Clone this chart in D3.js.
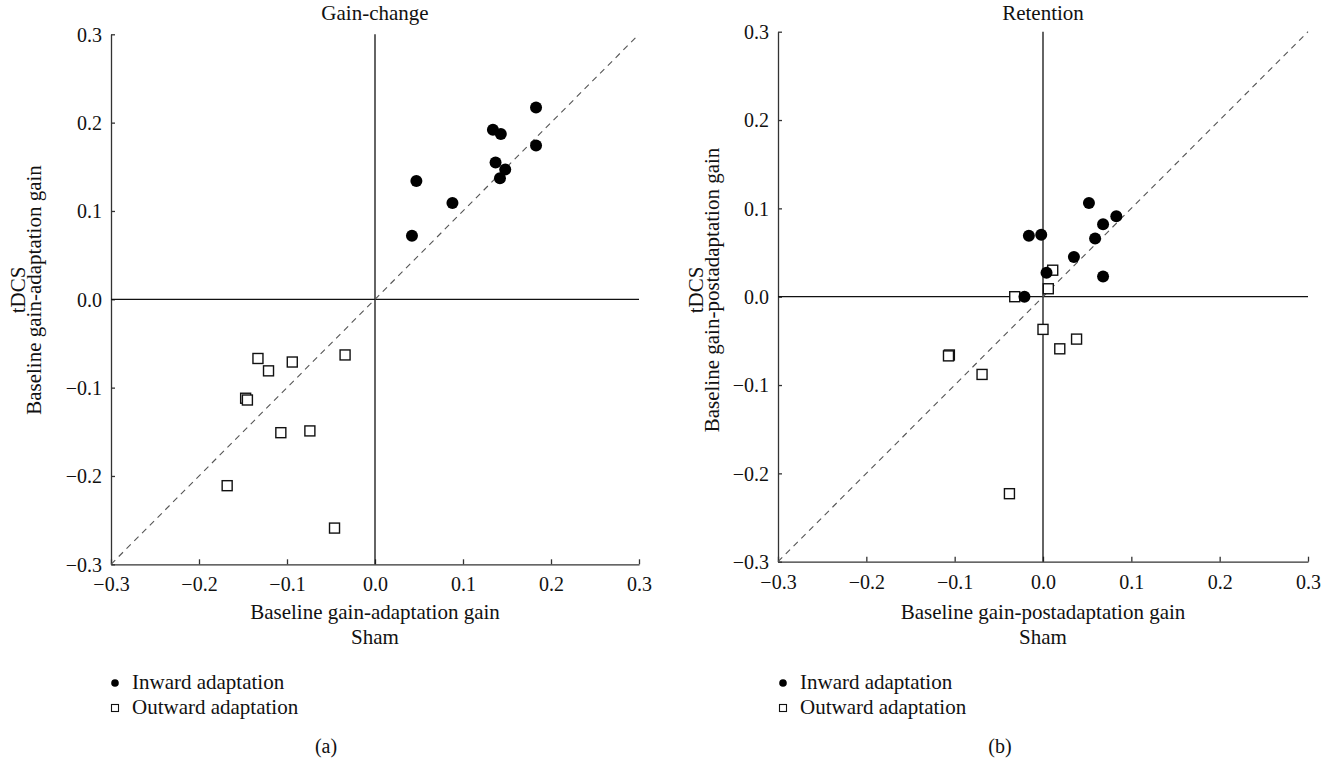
<!DOCTYPE html>
<html>
<head>
<meta charset="utf-8">
<script src="https://cdn.jsdelivr.net/npm/d3@7"></script>
<style>
  body { margin: 0; background: #fff; }
  svg text { font-family: "Liberation Serif", "Times New Roman", serif; fill: #111; }
</style>
</head>
<body>
<div id="chart"></div>
<script>
// axis ticks shared by both panels
const tickValues = [-0.3, -0.2, -0.1, 0.0, 0.1, 0.2, 0.3];

// (a) gain-change: sham (x) vs tDCS (y)
const gainInwardX = [0.183, 0.134, 0.143, 0.183, 0.137, 0.148, 0.142, 0.047, 0.088, 0.042];
const gainInwardY = [0.217, 0.192, 0.187, 0.174, 0.155, 0.147, 0.137, 0.134, 0.109, 0.072];
const gainOutwardX = [-0.133, -0.121, -0.094, -0.034, -0.147, -0.145, -0.107, -0.074, -0.168, -0.046];
const gainOutwardY = [-0.067, -0.081, -0.071, -0.063, -0.112, -0.114, -0.151, -0.149, -0.211, -0.259];

// (b) retention: sham (x) vs tDCS (y)
const retInwardX = [0.052, 0.083, 0.068, 0.059, -0.016, -0.002, 0.035, 0.004, 0.068, -0.021];
const retInwardY = [0.106, 0.091, 0.082, 0.066, 0.069, 0.070, 0.045, 0.027, 0.023, 0.000];
const retOutwardX = [-0.032, 0.011, 0.006, 0.000, 0.019, 0.038, -0.106, -0.107, -0.069, -0.038];
const retOutwardY = [0.000, 0.030, 0.009, -0.037, -0.059, -0.048, -0.066, -0.067, -0.088, -0.223];

const legendLabels = ["Inward adaptation", "Outward adaptation"];

const width = 1341, height = 763;

const svg = d3.select("#chart").append("svg")
  .attr("width", width)
  .attr("height", height);

function drawPanel(p) {
  const x = d3.scaleLinear().domain([-0.3, 0.3]).range([p.left, p.right]);
  const y = d3.scaleLinear().domain([-0.3, 0.3]).range([p.bottom, p.top]);
  const g = svg.append("g");
  const fmt = d3.format(".1f");

  // axes
  const xAxis = g.append("g")
    .attr("transform", `translate(0,${p.bottom})`)
    .call(d3.axisBottom(x).tickValues(tickValues).tickFormat(fmt)
      .tickSize(-5).tickSizeOuter(0).tickPadding(13));
  const yAxis = g.append("g")
    .attr("transform", `translate(${p.left},0)`)
    .call(d3.axisLeft(y).tickValues(tickValues).tickFormat(fmt)
      .tickSize(-4).tickSizeOuter(0).tickPadding(9));
  [xAxis, yAxis].forEach(a => {
    a.selectAll("path, line").attr("stroke", "#333").attr("stroke-width", 1.3);
    a.selectAll("text").attr("font-size", 20).attr("fill", "#111")
      .style("font-family", '"Liberation Serif", serif');
  });
  yAxis.selectAll("text").attr("dy", "0.34em");

  // zero lines
  g.append("line")
    .attr("x1", x(0)).attr("x2", x(0))
    .attr("y1", y(0.3)).attr("y2", y(-0.3))
    .attr("stroke", "#111").attr("stroke-width", 1.3);
  g.append("line")
    .attr("x1", x(-0.3)).attr("x2", x(0.3))
    .attr("y1", y(0)).attr("y2", y(0))
    .attr("stroke", "#111").attr("stroke-width", 1.3);

  // identity line
  g.append("line")
    .attr("x1", x(-0.3)).attr("y1", y(-0.3))
    .attr("x2", x(0.3)).attr("y2", y(0.3))
    .attr("stroke", "#555").attr("stroke-width", 1.1)
    .attr("stroke-dasharray", "6,5");

  // outward (open squares)
  const sq = 10;
  g.selectAll(".sq")
    .data(p.outX.map((v, i) => [v, p.outY[i]]))
    .enter().append("rect")
    .attr("x", d => x(d[0]) - sq / 2)
    .attr("y", d => y(d[1]) - sq / 2)
    .attr("width", sq).attr("height", sq)
    .attr("fill", "#fff").attr("stroke", "#111").attr("stroke-width", 1.4);

  // inward (filled circles)
  g.selectAll(".dot")
    .data(p.inX.map((v, i) => [v, p.inY[i]]))
    .enter().append("circle")
    .attr("cx", d => x(d[0]))
    .attr("cy", d => y(d[1]))
    .attr("r", 6)
    .attr("fill", "#000");

  // titles
  g.append("text")
    .attr("x", x(0)).attr("y", 20)
    .attr("text-anchor", "middle").attr("font-size", 21)
    .text(p.title);
  g.append("text")
    .attr("x", x(0)).attr("y", 619)
    .attr("text-anchor", "middle").attr("font-size", 21)
    .text(p.xLabel);
  g.append("text")
    .attr("x", x(0)).attr("y", 644)
    .attr("text-anchor", "middle").attr("font-size", 21)
    .text("Sham");

  const yl = g.append("text")
    .attr("transform", `translate(${p.yLabelX},${p.yLabelY}) rotate(-90)`)
    .attr("text-anchor", "middle").attr("font-size", 21);
  yl.append("tspan").attr("x", 0).attr("y", 0).text("tDCS");
  yl.append("tspan").attr("x", 0).attr("y", 16).text(p.yLabel);

  // legend
  const lg = g.append("g");
  lg.append("circle")
    .attr("cx", p.legendX).attr("cy", 683).attr("r", 3.8).attr("fill", "#000");
  lg.append("rect")
    .attr("x", p.legendX - 3.5).attr("y", 704.5)
    .attr("width", 7).attr("height", 7)
    .attr("fill", "#fff").attr("stroke", "#111").attr("stroke-width", 1.1);
  lg.selectAll(".lt")
    .data(legendLabels)
    .enter().append("text")
    .attr("x", p.legendX + 17)
    .attr("y", (d, i) => 689 + i * 25)
    .attr("font-size", 21)
    .text(d => d);

  g.append("text")
    .attr("x", p.panelLabelX).attr("y", 753)
    .attr("text-anchor", "middle").attr("font-size", 20)
    .text(p.panelLabel);
}

drawPanel({
  left: 111, right: 639, top: 34.3, bottom: 564.3,
  inX: gainInwardX, inY: gainInwardY, outX: gainOutwardX, outY: gainOutwardY,
  title: "Gain-change",
  xLabel: "Baseline gain-adaptation gain",
  yLabel: "Baseline gain-adaptation gain",
  yLabelX: 25, yLabelY: 290,
  legendX: 115, panelLabel: "(a)", panelLabelX: 326
});

drawPanel({
  left: 778, right: 1308, top: 31.7, bottom: 561.7,
  inX: retInwardX, inY: retInwardY, outX: retOutwardX, outY: retOutwardY,
  title: "Retention",
  xLabel: "Baseline gain-postadaptation gain",
  yLabel: "Baseline gain-postadaptation gain",
  yLabelX: 703, yLabelY: 290,
  legendX: 783, panelLabel: "(b)", panelLabelX: 1000
});
</script>
</body>
</html>
